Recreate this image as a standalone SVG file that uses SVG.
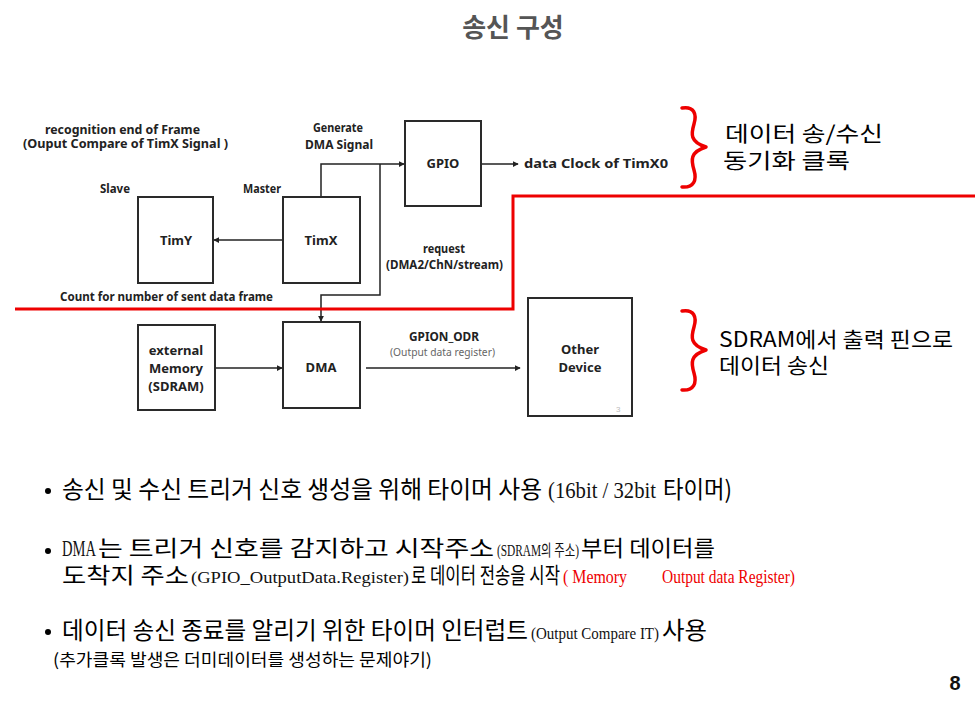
<svg xmlns="http://www.w3.org/2000/svg" width="975" height="710" viewBox="0 0 975 710">
<defs>
<marker id="ah" viewBox="0 0 8 8" refX="7" refY="4" markerWidth="6" markerHeight="6" orient="auto" markerUnits="userSpaceOnUse">
<path d="M0,0 L8,4 L0,8 z" fill="#222"/>
</marker>
<style>
.box{fill:#fff;stroke:#2a2a2a;stroke-width:2}
.lbl{font-family:"Noto Sans","Liberation Sans",sans-serif;font-weight:bold;font-size:12px;fill:#222}
.blbl{font-family:"Noto Sans","Liberation Sans",sans-serif;font-weight:bold;font-size:13px;fill:#222;text-anchor:middle}
.conn{fill:none;stroke:#222;stroke-width:1.5}
.red{fill:none;stroke:#ee0000;stroke-width:3}
.brace{fill:none;stroke:#ee0000;stroke-width:3.5;stroke-linejoin:round;stroke-linecap:round}
.side{font-family:"Noto Sans CJK KR","Noto Sans",sans-serif;font-size:21px;fill:#000}
.body{font-family:"Noto Sans CJK KR",sans-serif;font-size:24px;fill:#000}
.body2{font-family:"Noto Sans CJK KR",sans-serif;font-size:22px;fill:#000}
.sr{font-family:"Liberation Serif","Noto Sans CJK KR",serif;font-size:24px;fill:#111}
.sm{font-family:"Liberation Serif","Noto Sans CJK KR",serif;font-size:16px;fill:#111}
.rd{font-family:"Liberation Serif",serif;font-size:19px;fill:#ee0000}
</style>
</defs>
<rect width="975" height="710" fill="#fff"/>
<text x="513" y="37" text-anchor="middle" font-family="Noto Sans CJK KR, sans-serif" font-weight="bold" font-size="26" fill="#555">송신 구성</text>

<g id="connectors">
<line class="conn" x1="283" y1="240" x2="214" y2="240" marker-end="url(#ah)"/>
<polyline class="conn" points="321,197 321,164 404,164" marker-end="url(#ah)"/>
<polyline class="conn" points="380,164 380,295 321,295 321,321" marker-end="url(#ah)"/>
<line class="conn" x1="481" y1="164" x2="518" y2="164" marker-end="url(#ah)"/>
<line class="conn" x1="215" y1="368" x2="282" y2="368" marker-end="url(#ah)"/>
<line class="conn" x1="366" y1="368" x2="520" y2="368" marker-end="url(#ah)"/>
</g>

<polyline class="red" points="15,309 513,309 513,196 975,196"/>

<g id="timy"><rect class="box" x="138" y="197" width="75" height="86"/><text class="blbl" x="176" y="245">TimY</text></g>
<g id="timx"><rect class="box" x="283" y="197" width="77" height="86"/><text class="blbl" x="321" y="245">TimX</text></g>
<g id="gpio"><rect class="box" x="405" y="121" width="76" height="85"/><text class="blbl" x="443" y="168">GPIO</text></g>
<g id="extmem"><rect class="box" x="138" y="325" width="77" height="85"/>
<text class="blbl" x="176" y="355">external</text><text class="blbl" x="176" y="373">Memory</text><text class="blbl" x="176" y="391">(SDRAM)</text></g>
<g id="dma"><rect class="box" x="283" y="322" width="77" height="86"/><text class="blbl" x="321" y="372">DMA</text></g>
<g id="other"><rect class="box" x="528" y="298" width="104" height="118"/>
<text class="blbl" x="580" y="354">Other</text><text class="blbl" x="580" y="372">Device</text>
<text x="616" y="412" font-family="Liberation Sans, sans-serif" font-size="8" fill="#bbb">3</text></g>

<g id="labels">
<text class="lbl" x="45" y="134" textLength="155" lengthAdjust="spacingAndGlyphs">recognition end of Frame</text>
<text class="lbl" x="23" y="148" textLength="205" lengthAdjust="spacingAndGlyphs">(Ouput Compare of TimX Signal )</text>
<text class="lbl" x="100" y="193" textLength="30" lengthAdjust="spacingAndGlyphs">Slave</text>
<text class="lbl" x="243" y="193" textLength="38" lengthAdjust="spacingAndGlyphs">Master</text>
<text class="lbl" x="313" y="132" textLength="50" lengthAdjust="spacingAndGlyphs">Generate</text>
<text class="lbl" x="305" y="149" textLength="68" lengthAdjust="spacingAndGlyphs">DMA Signal</text>
<text class="lbl" x="423" y="253" textLength="42" lengthAdjust="spacingAndGlyphs">request</text>
<text class="lbl" x="386" y="269" textLength="117" lengthAdjust="spacingAndGlyphs">(DMA2/ChN/stream)</text>
<text class="lbl" x="60" y="301" textLength="213" lengthAdjust="spacingAndGlyphs">Count for number of sent data frame</text>
<text class="lbl" x="524" y="168" textLength="144" lengthAdjust="spacingAndGlyphs">data Clock of TimX0</text>
<text class="lbl" x="409" y="341" textLength="70" lengthAdjust="spacingAndGlyphs">GPION_ODR</text>
<text x="390" y="356" textLength="105" lengthAdjust="spacingAndGlyphs" font-family="Noto Sans, sans-serif" font-size="11" fill="#666">(Output data register)</text>
</g>

<g id="brace1">
<path class="brace" d="M682,108 C694,106 697,114 694,124 C691,134 690,142 706,147 C690,152 691,160 694,170 C697,180 694,188 682,187"/>
<text class="side" x="725" y="141" textLength="158" lengthAdjust="spacingAndGlyphs">데이터 송/수신</text>
<text class="side" x="723" y="168" textLength="127" lengthAdjust="spacingAndGlyphs">동기화 클록</text>
</g>
<g id="brace2">
<path class="brace" d="M682,311 C694,309 697,317 694,327 C691,337 690,345 706,350 C690,355 691,363 694,373 C697,383 694,391 682,390"/>
<text class="side" x="719" y="347" textLength="234" lengthAdjust="spacingAndGlyphs">SDRAM에서 출력 핀으로</text>
<text class="side" x="719" y="373" textLength="110" lengthAdjust="spacingAndGlyphs">데이터 송신</text>
</g>

<g id="bullets">
<circle cx="48" cy="491" r="3" fill="#000"/>
<text class="body" y="498"><tspan x="62" textLength="480" lengthAdjust="spacingAndGlyphs">송신 및 수신 트리거 신호 생성을 위해 타이머 사용</tspan><tspan class="sr" x="548" textLength="108" lengthAdjust="spacingAndGlyphs">(16bit / 32bit</tspan><tspan x="663" textLength="69" lengthAdjust="spacingAndGlyphs">타이머)</tspan></text>

<circle cx="48" cy="551" r="3" fill="#000"/>
<text class="body2" y="556"><tspan class="sr" x="62" font-size="25" fill="#1c2f78" textLength="34" lengthAdjust="spacingAndGlyphs">DMA</tspan><tspan x="98" textLength="396" lengthAdjust="spacingAndGlyphs">는 트리거 신호를 감지하고  시작주소</tspan><tspan class="sm" x="497" textLength="82" lengthAdjust="spacingAndGlyphs">(SDRAM의 주소)</tspan><tspan x="581" textLength="134" lengthAdjust="spacingAndGlyphs">부터 데이터를</tspan><tspan x="62" y="583" textLength="127" lengthAdjust="spacingAndGlyphs">도착지 주소</tspan><tspan class="sm" x="191" textLength="218" lengthAdjust="spacingAndGlyphs">(GPIO_OutputData.Register)</tspan><tspan x="411" textLength="149" lengthAdjust="spacingAndGlyphs">로 데이터 전송을 시작</tspan><tspan class="rd" x="563" textLength="64" lengthAdjust="spacingAndGlyphs">( Memory</tspan><tspan class="rd" x="662" textLength="133" lengthAdjust="spacingAndGlyphs">Output data Register)</tspan></text>

<circle cx="48" cy="632" r="3" fill="#000"/>
<text class="body" y="639"><tspan x="62" textLength="466" lengthAdjust="spacingAndGlyphs">데이터 송신 종료를 알리기 위한 타이머 인터럽트</tspan><tspan class="sm" x="531" textLength="128" lengthAdjust="spacingAndGlyphs">(Output Compare IT)</tspan><tspan x="662" textLength="45" lengthAdjust="spacingAndGlyphs">사용</tspan><tspan x="53" y="666" font-size="17" textLength="379" lengthAdjust="spacingAndGlyphs">(추가클록 발생은 더미데이터를 생성하는 문제야기)</tspan></text>
</g>

<text x="955" y="690" text-anchor="middle" font-family="Liberation Sans Narrow, Liberation Sans, sans-serif" font-weight="bold" font-size="20" fill="#111">8</text>
</svg>
